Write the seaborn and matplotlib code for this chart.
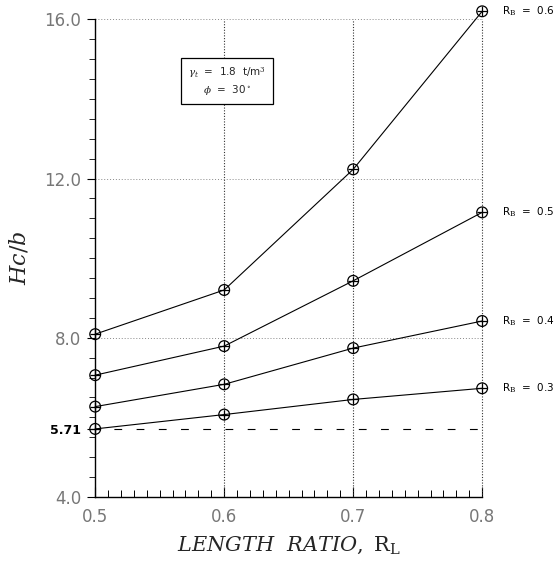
import numpy as np
import pandas as pd
import matplotlib
matplotlib.use("Agg")
import matplotlib.pyplot as plt
import seaborn as sns

# length ratio R_L and Hc/b for each R_B curve
length_ratio = [0.5, 0.6, 0.7, 0.8]
rb_values = [0.3, 0.4, 0.5, 0.6]
hc_rb03 = [5.71, 6.07, 6.45, 6.73]
hc_rb04 = [6.27, 6.83, 7.74, 8.42]
hc_rb05 = [7.06, 7.79, 9.43, 11.15]
hc_rb06 = [8.09, 9.20, 12.23, 16.20]
critical_hc = 5.71

x_ticks = [0.5, 0.6, 0.7, 0.8]
x_labels = ["0.5", "0.6", "0.7", "0.8"]
y_ticks = [4.0, 5.71, 8.0, 12.0, 16.0]
y_labels = ["4.0", "5.71", "8.0", "12.0", "16.0"]

series = [hc_rb03, hc_rb04, hc_rb05, hc_rb06]
df = pd.concat([pd.DataFrame({"RL": length_ratio, "Hc": s, "RB": rb})
                for s, rb in zip(series, rb_values)], ignore_index=True)

sns.set_style("white")
plt.rcParams['font.family'] = ['DejaVu Sans']
plt.rcParams['mathtext.fontset'] = 'dejavuserif'

fig = plt.figure(figsize=(5.6, 5.62), dpi=100)
ax = fig.add_axes([0.170, 0.1157, 0.691, 0.850])

# grid lines
for xv in x_ticks[1:]:
    ax.axvline(xv, color="#333333", ls=(0, (1, 1.5)), lw=0.8, zorder=1)
for yv in [8.0, 12.0, 16.0]:
    ax.axhline(yv, color="#888888", ls=(0, (1, 2)), lw=0.7, zorder=1)
ax.axhline(critical_hc, color="black", ls=(3, (7, 13)), lw=0.8, zorder=1)

sns.lineplot(data=df, x="RL", y="Hc", hue="RB", units="RB", estimator=None,
             palette=["black"] * 4, lw=0.8, legend=False, ax=ax, zorder=3)
sns.scatterplot(data=df, x="RL", y="Hc", marker="o", s=60, facecolor="none",
                edgecolor="black", linewidth=0.9, legend=False, ax=ax, zorder=4,
                clip_on=False)
sns.scatterplot(data=df, x="RL", y="Hc", marker="+", s=45, color="black",
                linewidth=0.9, legend=False, ax=ax, zorder=4, clip_on=False)
for ln in ax.lines:
    ln.set_clip_on(False)

for s, rb in zip(series, rb_values):
    ax.annotate(r"R$_{\rm B}$  =  " + f"{rb:.1f}", xy=(length_ratio[-1], s[-1]),
                xytext=(14, 0), textcoords="offset points", va="center",
                fontsize=7.5, color="black", annotation_clip=False)

ax.text(0.405, 0.856, r"$\gamma_t$  =  1.8  t/m$^3$" + "\n" + r"$\phi$  =  30$^\circ$",
        transform=fig.transFigure, ha="center", va="center", fontsize=7.5,
        linespacing=1.3,
        bbox=dict(boxstyle="square,pad=0.7", fc="white", ec="black", lw=0.9))

ax.set_xlim(0.5, 0.8)
ax.set_ylim(4.0, 16.0)
ax.set_xticks(x_ticks)
ax.set_xticklabels(x_labels)
ax.set_xticks(np.arange(0.5, 0.8001, 0.01), minor=True)
ax.set_yticks(y_ticks)
ax.set_yticklabels(y_labels)
ax.set_yticks(np.arange(4.0, 16.001, 0.5), minor=True)

ax.tick_params(axis="x", which="both", bottom=True, color="black")
ax.tick_params(axis="y", which="both", left=True, color="black")
ax.tick_params(axis="x", which="major", direction="in", length=7, width=0.8,
               labelsize=12, labelcolor="#777777", pad=8)
ax.tick_params(axis="x", which="minor", direction="in", length=5, width=0.7)
ax.tick_params(axis="y", which="major", direction="out", length=6, width=0.8,
               labelsize=12, labelcolor="#777777", pad=4)
ax.tick_params(axis="y", which="minor", direction="out", length=4, width=0.6)
lab = ax.get_yticklabels()[1]
lab.set_fontweight("bold")
lab.set_color("black")
lab.set_fontsize(9)

for side in ["top", "right"]:
    ax.spines[side].set_visible(False)
for side in ["left", "bottom"]:
    ax.spines[side].set_color("black")
    ax.spines[side].set_linewidth(1.0)

ax.set_xlabel(r"$\it{LENGTH\ \ RATIO,}$ R$_{\rm L}$", fontsize=15,
              family="DejaVu Serif", labelpad=6)
ax.set_ylabel(r"$Hc/b$", fontsize=16, family="DejaVu Serif", labelpad=10)

fig.savefig("out.png", dpi=100)
